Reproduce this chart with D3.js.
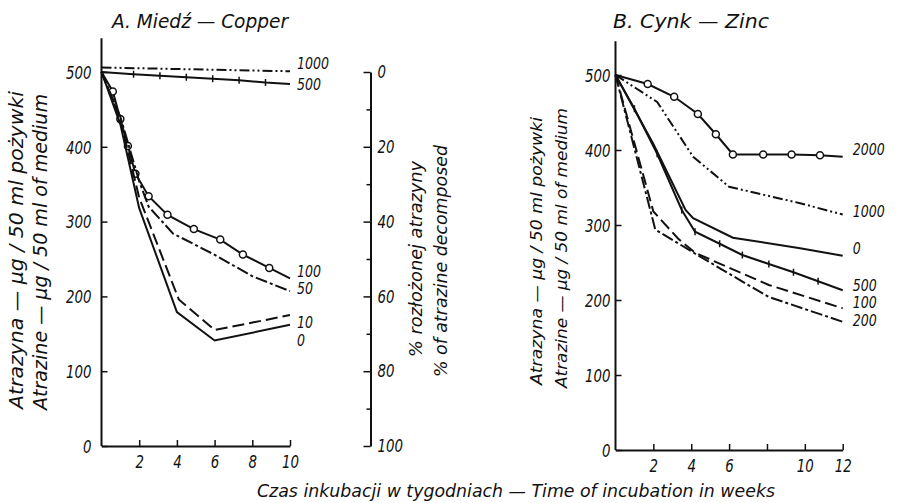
<!DOCTYPE html>
<html>
<head>
<meta charset="utf-8">
<script src="https://cdn.jsdelivr.net/npm/d3@7"></script>
<style>
body { margin: 0; background: #fff; }
text { font-family: "Liberation Sans Narrow", "DejaVu Sans Condensed", sans-serif; font-style: italic; fill: #111; }
</style>
</head>
<body>
<svg id="chart" width="897" height="503"></svg>
<script>
// atrazine left (µg / 50 ml) against weeks of incubation
// A. copper
var cu1000 = [[0, 506], [10, 501]];
var cu500 = [[0, 500], [1.7, 497], [3.1, 495], [4.5, 493], [5.9, 491], [7.3, 489], [8.7, 486], [10, 484]];
var cu100 = [[0, 500], [0.6, 474], [1.0, 437], [1.4, 401], [1.8, 364], [2.5, 334], [3.5, 309], [4.9, 290], [6.3, 276], [7.5, 256], [8.9, 238], [10, 224]];
var cu50 = [[0, 500], [1, 440], [2, 354], [2.5, 320], [3.8, 284], [5.9, 257], [8, 227], [10, 207]];
var cu10 = [[0, 500], [1, 436], [2, 332], [4.1, 196], [6, 155], [10, 175]];
var cu0 = [[0, 500], [1, 430], [2, 318], [4, 179], [6, 141], [10, 162]];
var cuLabels = ["1000", "500", "100", "50", "10", "0"];

// B. zinc
var zn2000 = [[0, 500], [1.7, 488], [3.1, 471], [4.35, 448], [5.3, 421], [6.2, 394], [7.8, 394], [9.3, 394], [10.8, 393], [12, 391]];
var zn1000 = [[0, 500], [2.2, 464], [4.1, 391], [6, 351], [9.75, 329], [12, 314]];
var zn0 = [[0, 500], [2, 408], [3.7, 320], [4.1, 309], [6.2, 283], [9.75, 269], [12, 259]];
var zn500 = [[0, 500], [1, 455], [2.2, 395], [3.5, 320], [4.2, 291], [5.5, 275], [6.7, 260], [8.1, 248], [9.4, 237], [10.7, 225], [12, 213]];
var zn100 = [[0, 500], [2, 318], [3.3, 282], [4.2, 263], [6, 243], [8.1, 220], [12, 189]];
var zn200 = [[0, 500], [2.1, 294], [4, 265], [6, 235], [8.1, 204], [12, 171]];
var znLabels = ["2000", "1000", "0", "500", "100", "200"];

var yTicks = [0, 100, 200, 300, 400, 500];
var pctTicks = [0, 20, 40, 60, 80, 100];
var cuWeekTicks = [2, 4, 6, 8, 10];
var znWeekTicks = [2, 4, 6, 8, 10, 12];
var znWeekShown = [2, 4, 6, 10, 12];

var svg = d3.select("#chart");
svg.append("rect").attr("width", 897).attr("height", 503).attr("fill", "#fff");

var xA = d3.scaleLinear().domain([0, 10]).range([101.5, 290]);
var yA = d3.scaleLinear().domain([0, 500]).range([446, 72]);
var pct = d3.scaleLinear().domain([0, 100]).range([yA(500), yA(0)]);
var xB = d3.scaleLinear().domain([0, 12]).range([615.5, 842.7]);
var yB = d3.scaleLinear().domain([0, 500]).range([450, 75]);

var dashDotDot = "10,3,2,3,2,3", dashDot = "12,3,3,3", dashed = "12,5";

// narrow the digits a little, the original uses a condensed face
function narrow(sel, w) {
  sel.attr("textLength", function () { return this.textContent.length * w || null; })
    .attr("lengthAdjust", "spacingAndGlyphs");
}

function panel(x, y, series, labels, xticks, xshown, top) {
  var g = svg.append("g");
  // y axis
  var ya = g.append("g").attr("transform", "translate(" + x(0) + ",0)")
    .call(d3.axisLeft(y).tickValues(yTicks).tickSizeInner(-6).tickSizeOuter(0).tickPadding(top.pad));
  ya.select(".domain").remove();
  ya.selectAll("line").attr("stroke", "#111").attr("stroke-width", 1.5);
  ya.selectAll("text").attr("font-size", 18).attr("fill", "#111").attr("dy", "0.35em").call(narrow, 8.5);
  g.append("line").attr("x1", x(0)).attr("x2", x(0)).attr("y1", y(0)).attr("y2", y(top.v))
    .attr("stroke", "#111").attr("stroke-width", 2);
  // x axis
  var xa = g.append("g").attr("transform", "translate(0," + y(0) + ")")
    .call(d3.axisBottom(x).tickValues(xticks).tickSizeInner(-6).tickSizeOuter(0).tickPadding(9)
      .tickFormat(function (d) { return xshown.indexOf(d) >= 0 ? d : ""; }));
  xa.select(".domain").attr("stroke", "#111").attr("stroke-width", 2);
  xa.selectAll("line").attr("stroke", "#111").attr("stroke-width", 1.5);
  xa.selectAll("text").attr("font-size", 18).attr("fill", "#111").call(narrow, 8.5);

  var line = d3.line().x(function (d) { return x(d[0]); }).y(function (d) { return y(d[1]); });
  series.forEach(function (s, i) {
    g.append("path").attr("d", line(s.data)).attr("fill", "none").attr("stroke", "#111")
      .attr("stroke-width", 2).attr("stroke-dasharray", s.dash || null);
    var inner = s.data.slice(1, -1);
    if (s.mark === "circle") {
      g.selectAll(null).data(inner).enter().append("circle")
        .attr("cx", function (d) { return x(d[0]); }).attr("cy", function (d) { return y(d[1]); })
        .attr("r", 3.5).attr("fill", "#fff").attr("stroke", "#111").attr("stroke-width", 1.5);
    }
    if (s.mark === "plus") {
      g.selectAll(null).data(inner).enter().append("path")
        .attr("d", function (d) { return "M" + x(d[0]) + "," + (y(d[1]) - 3.5) + "v7"; })
        .attr("stroke", "#111").attr("stroke-width", 1.5);
    }
    var last = s.data[s.data.length - 1];
    g.append("text").attr("x", x(last[0]) + top.lx).attr("y", y(last[1]) + s.dy)
      .attr("dy", "0.35em").attr("font-size", 15).text(labels[i]).call(narrow, 8);
  });
  return g;
}

panel(xA, yA, [
  { data: cu1000, dash: dashDotDot, dy: -8 },
  { data: cu500, mark: "plus", dy: 1 },
  { data: cu100, mark: "circle", dy: -7 },
  { data: cu50, dash: dashDot, dy: -2 },
  { data: cu10, dash: dashed, dy: 8 },
  { data: cu0, dy: 16 }
], cuLabels, cuWeekTicks, cuWeekTicks, { v: 545, pad: 10, lx: 7 });

panel(xB, yB, [
  { data: zn2000, mark: "circle", dy: -7 },
  { data: zn1000, dash: dashDotDot, dy: -3 },
  { data: zn0, dy: -7 },
  { data: zn500, mark: "plus", dy: -5 },
  { data: zn100, dash: dashed, dy: -6 },
  { data: zn200, dash: dashDot, dy: -1 }
], znLabels, znWeekTicks, znWeekShown, { v: 545, pad: 5, lx: 10 });

// percent decomposed axis for panel A
var pa = svg.append("g").attr("transform", "translate(370.5,0)")
  .call(d3.axisRight(pct).tickValues(pctTicks).tickSizeInner(-7).tickSizeOuter(0).tickPadding(7));
pa.select(".domain").attr("stroke", "#111").attr("stroke-width", 2);
pa.selectAll("line").attr("stroke", "#111").attr("stroke-width", 1.5);
pa.selectAll("text").attr("font-size", 18).attr("fill", "#111").call(narrow, 8.5);
svg.append("g").attr("transform", "translate(370.5,0)")
  .call(d3.axisRight(pct).tickValues([10, 30, 50, 70, 90]).tickSizeInner(-4).tickSizeOuter(0).tickFormat(""))
  .call(function (g) { g.select(".domain").remove(); g.selectAll("line").attr("stroke", "#111").attr("stroke-width", 1.5); });

// titles and axis names
svg.append("text").attr("x", 112).attr("y", 28).attr("font-size", 20).attr("textLength", 176)
  .attr("lengthAdjust", "spacingAndGlyphs").text("A. Miedź — Copper");
svg.append("text").attr("x", 613).attr("y", 28).attr("font-size", 20).attr("textLength", 156)
  .attr("lengthAdjust", "spacingAndGlyphs").text("B. Cynk — Zinc");
svg.append("text").attr("x", 257).attr("y", 497).attr("font-size", 18).attr("textLength", 518)
  .attr("lengthAdjust", "spacingAndGlyphs").text("Czas inkubacji w tygodniach — Time of incubation in weeks");

function vlabel(cx, cy, len, size, txt) {
  svg.append("text").attr("transform", "translate(" + cx + "," + cy + ") rotate(-90)")
    .attr("text-anchor", "middle").attr("dy", "0.35em").attr("font-size", size)
    .attr("textLength", len).attr("lengthAdjust", "spacingAndGlyphs").text(txt);
}
vlabel(16, 250, 318, 19, "Atrazyna — µg / 50 ml pożywki");
vlabel(40, 252, 316, 19, "Atrazine — µg / 50 ml of medium");
vlabel(536, 251, 268, 16, "Atrazyna — µg / 50 ml pożywki");
vlabel(561, 248, 280, 16, "Atrazine — µg / 50 ml of medium");
vlabel(416, 259, 196, 17, "% rozłożonej atrazyny");
vlabel(441, 261, 232, 17, "% of atrazine decomposed");
</script>
</body>
</html>
